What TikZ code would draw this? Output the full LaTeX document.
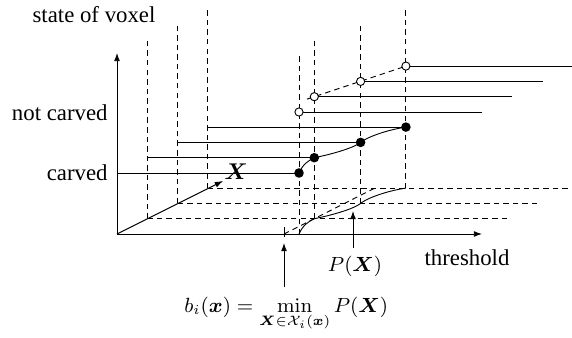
\documentclass[tikz,border=0pt]{standalone}
\usepackage{amsmath, amssymb, bm}
\usepackage[no-math]{fontspec}
\setmainfont{Liberation Serif}
\usetikzlibrary{arrows.meta, calc}

\begin{document}
\begin{tikzpicture}[x=0.4386pt, y=-0.4386pt,
        axis/.style={-{Latex[length=3.6pt,width=2.6pt]}},
        guide/.style={dash pattern=on 2.4pt off 1.8pt},
        carved/.style={circle, fill=black, inner sep=0pt, minimum size=4.2pt},
        uncarved/.style={circle, draw=black, fill=white, inner sep=0pt, minimum size=3.6pt},
        lbl/.style={inner sep=0pt}
    ]
        \useasboundingbox (0,0) rectangle (572,338);

        % Slices along X and their thresholds
        \coordinate (o0) at (117,234);
        \foreach \k/\t in {0/182, 1/167, 2/183, 3/198} {
            \coordinate (o\k) at ($(o0)+\k*(30.3,-15.3)$);
            \coordinate (g\k) at ($(o\k)+(\t,0)$);
            \coordinate (s\k) at ($(o\k)+(\t,-61)$);
            \coordinate (n\k) at ($(o\k)+(\t,-122)$);
        }

        % Back slices
        \foreach \k in {1,2,3} {
            \draw[guide] (o\k) -- ++(0,-180);
            \draw[guide] (o\k) -- ++(363,0);
            \draw ($(o\k)+(0,-61)$) -- (s\k);
            \draw (n\k) -- ($(o\k)+(365,-122)$);
        }
        \foreach \k in {0,...,3}
            \draw[guide] (g\k) -- ++(0,-180);

        % Front slice
        \draw[axis] (o0) -- ++(0,-181);
        \draw[axis] (o0) -- ++(365,0);
        \draw ($(o0)+(0,-61)$) -- (s0);
        \draw (n0) -- ($(o0)+(365,-122)$);
        \draw[axis] (o0) -- ++(106,-53);

        % Curves of P(X)
        \draw[guide] ($(n1)!-0.08!(n3)$) -- (n3);
        \coordinate (bmin) at (284,234);
        \draw[guide] (bmin) -- ++(91,-46);
        \foreach \p in {s,g}
            \draw (\p0) .. controls +(4,-9) and +(-6,3) .. (\p1)
                .. controls +(20,-4) and +(-6,5) .. (\p2)
                .. controls +(6,-5) and +(-20,3) .. (\p3);

        % Dots
        \foreach \k in {0,...,3} {
            \node[carved] (c\k) at (s\k) {};
            \node[uncarved] (u\k) at (n\k) {};
        }

        % Labels
        \node (state) at (94,15) {state of voxel};
        \node[lbl, anchor=east] (nc) at (108,113) {not carved};
        \node[lbl, anchor=east] (cv) at (108,173) {carved};
        \node (xlab) at (236,172) {$\boldsymbol{X}$};
        \node (thr) at (467,258) {threshold};
        \node[font=\small] (plab) at (355,266) {$P(\boldsymbol{X})$};
        \node[lbl, font=\small, anchor=base west] (bform) at (184,312)
            {$\displaystyle b_i(\boldsymbol{x}) = \min_{\boldsymbol{X}\in\mathcal{X}_i(\boldsymbol{x})} P(\boldsymbol{X})$};

        % Pointers
        \coordinate (ptip) at (353,211);
        \draw ($(bmin)+(0,-7)$) -- ($(bmin)+(0,3)$);
        \draw[axis] ($(bmin)+(0,53)$) -- ($(bmin)+(0,9)$);
        \draw[axis] (plab.north -| ptip) -- (ptip);
    \end{tikzpicture}
\end{document}
